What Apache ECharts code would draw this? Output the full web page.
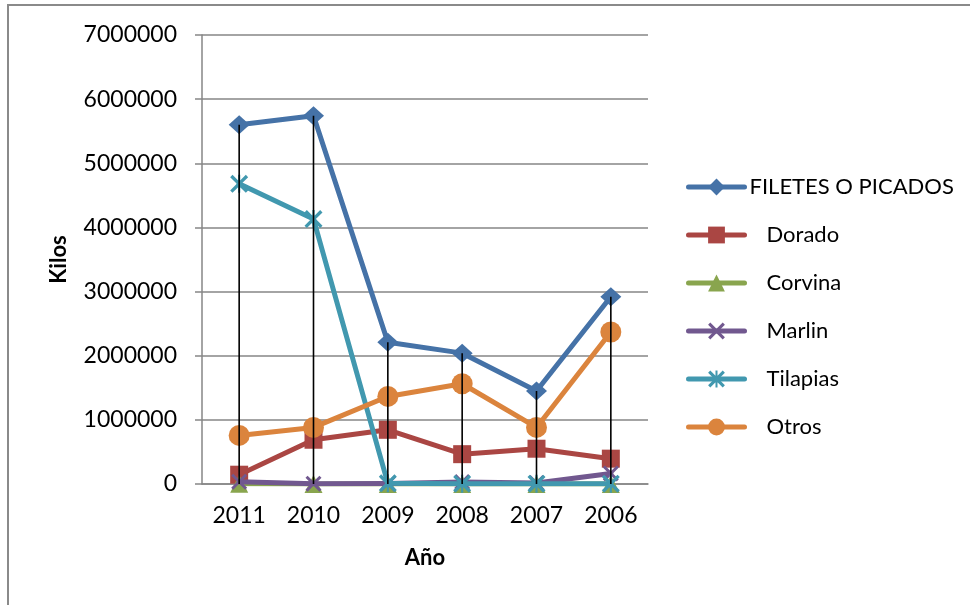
<!DOCTYPE html>
<html>
<head>
<meta charset="utf-8">
<script src="https://cdn.jsdelivr.net/npm/echarts@6/dist/echarts.min.js"></script>
<style>
  html, body { margin: 0; padding: 0; background: #ffffff; }
  #chart { width: 970px; height: 605px; }
</style>
</head>
<body>
<div id="chart"></div>
<script>
// Years on the category axis
var years = ['2011', '2010', '2009', '2008', '2007', '2006'];

// Kilos per product and year
var filetes  = [5600000, 5740000, 2210000, 2040000, 1450000, 2920000];
var dorado   = [145000, 690000, 845000, 465000, 550000, 395000];
var corvina  = [2000, 1500, 1000, 1000, 800, 800];
var marlin   = [35000, 5000, 8000, 30000, 15000, 165000];
var tilapias = [4680000, 4130000, 10000, 5000, 5000, 5000];
var otros    = [757000, 882000, 1365000, 1563000, 882000, 2369000];

// Value axis ticks
var yTicks = [0, 1000000, 2000000, 3000000, 4000000, 5000000, 6000000, 7000000];

var seriesNames = ['FILETES O PICADOS', 'Dorado', 'Corvina', 'Marlin', 'Tilapias', 'Otros'];
var seriesValues = [filetes, dorado, corvina, marlin, tilapias, otros];

var FONT = 'Lato';
var colors = ['#4572A7', '#AA4643', '#89A54E', '#71588F', '#4198AF', '#DB843D'];

// Custom marker shapes: a filled "x" and an asterisk
var crossPath = 'path://M0,1.3 L1.3,0 L5,3.7 L8.7,0 L10,1.3 L6.3,5 L10,8.7 L8.7,10 L5,6.3 L1.3,10 L0,8.7 L3.7,5 Z';
var starPath = 'path://M0,1.3 L1.3,0 L5,3.7 L8.7,0 L10,1.3 L6.3,5 L10,8.7 L8.7,10 L5,6.3 L1.3,10 L0,8.7 L3.7,5 Z M4.4,0 L5.6,0 L5.6,10 L4.4,10 Z';

var markers = [
  { symbol: 'diamond', size: [21, 19] },
  { symbol: 'rect', size: 18 },
  { symbol: 'triangle', size: 18 },
  { symbol: crossPath, size: 16 },
  { symbol: starPath, size: 18 },
  { symbol: 'circle', size: 21 }
];

// Drop lines reach from the highest value of each year down to zero
var dropTops = years.map(function (y, i) {
  return Math.max.apply(null, seriesValues.map(function (s) { return s[i]; }));
});

var lineSeries = seriesNames.map(function (name, k) {
  return {
    name: name,
    type: 'line',
    data: seriesValues[k],
    symbol: markers[k].symbol,
    symbolSize: markers[k].size,
    showAllSymbol: true,
    lineStyle: { color: colors[k], width: 5, cap: 'round', join: 'round' },
    itemStyle: { color: colors[k], opacity: 1 },
    emphasis: { disabled: true },
    animation: false,
    z: 2 + k
  };
});

var dropSeries = {
  type: 'custom',
  name: 'drop',
  data: dropTops.map(function (v, i) { return [i, v]; }),
  renderItem: function (params, api) {
    var top = api.coord([api.value(0), api.value(1)]);
    var bottom = api.coord([api.value(0), 0]);
    return {
      type: 'line',
      shape: { x1: top[0], y1: top[1], x2: bottom[0], y2: bottom[1] },
      style: { stroke: '#000000', lineWidth: 1.6 }
    };
  },
  z: 20,
  silent: true,
  animation: false
};

var chart = echarts.init(document.getElementById('chart'), null, { renderer: 'canvas' });

chart.setOption({
  backgroundColor: '#ffffff',
  animation: false,
  graphic: [{
    type: 'rect',
    shape: { x: 8, y: 5, width: 1000, height: 640 },
    style: { fill: 'none', stroke: '#8a8a8a', lineWidth: 2 },
    silent: true,
    z: -1
  }],
  grid: { left: 202, right: 322, top: 35, bottom: 121 },
  legend: {
    orient: 'vertical',
    left: 686,
    top: 175,
    padding: 0,
    itemWidth: 56,
    itemHeight: 21,
    itemGap: 24,
    data: seriesNames,
    lineStyle: { width: 5, cap: 'round' },
    formatter: function (name) {
      return name === seriesNames[0] ? name : '{gap|}' + name;
    },
    textStyle: {
      fontFamily: FONT, fontSize: 22, color: '#000000', lineHeight: 24,
      rich: { gap: { width: 17 } }
    },
    selectedMode: false
  },
  xAxis: {
    type: 'category',
    data: years,
    boundaryGap: true,
    name: 'Año',
    nameLocation: 'middle',
    nameGap: 63,
    nameTextStyle: { fontFamily: FONT, fontSize: 22, fontWeight: 'bold', color: '#000000' },
    axisLine: { show: true, lineStyle: { color: '#868686', width: 1.5 } },
    axisTick: { show: false },
    axisLabel: { fontFamily: FONT, fontSize: 23, color: '#000000', margin: 20 },
    splitLine: { show: false }
  },
  yAxis: {
    type: 'value',
    min: yTicks[0],
    max: yTicks[yTicks.length - 1],
    interval: yTicks[1] - yTicks[0],
    name: 'Kilos',
    nameLocation: 'middle',
    nameGap: 132,
    nameRotate: 90,
    nameTextStyle: { fontFamily: FONT, fontSize: 22, fontWeight: 'bold', color: '#000000' },
    axisLine: { show: true, lineStyle: { color: '#868686', width: 1.5 } },
    axisTick: { show: true, inside: false, length: 7, lineStyle: { color: '#868686', width: 1.5 } },
    axisLabel: {
      fontFamily: FONT, fontSize: 23, color: '#000000', margin: 25,
      formatter: function (v) { return String(v); }
    },
    splitLine: { show: true, lineStyle: { color: '#868686', width: 1.5 } }
  },
  series: lineSeries.concat([dropSeries])
});
</script>
</body>
</html>
